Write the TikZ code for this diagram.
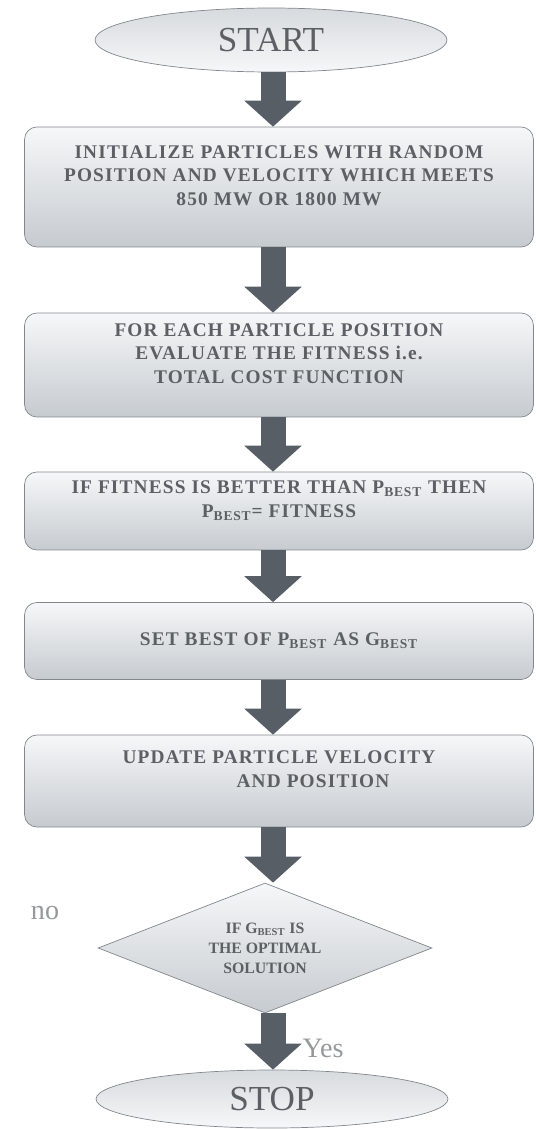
\documentclass[tikz,border=0pt]{standalone}
\usepackage{fontspec}
\setmainfont{Liberation Serif}
\usetikzlibrary{shapes.geometric,arrows.meta}

\definecolor{boxtop}{RGB}{246,247,248}
\definecolor{boxbottom}{RGB}{198,203,208}
\definecolor{boxline}{RGB}{130,135,141}
\definecolor{arrowgray}{RGB}{88,94,102}
\definecolor{textgray}{RGB}{92,96,101}
\definecolor{labelgray}{RGB}{150,152,155}

\tikzset{
  procbox/.style={draw=boxline, top color=boxtop, bottom color=boxbottom,
    rounded corners=7pt, minimum width=10.18cm, inner sep=0pt, align=center,
    text=textgray, font=\fontsize{11}{13.6}\selectfont\bfseries\addfontfeatures{LetterSpace=6}},
  raised/.style={text depth=0.46cm},
  terminal/.style={ellipse, draw=boxline, top color=boxbottom!70, bottom color=boxtop,
    minimum width=7.04cm, inner sep=0pt, text=textgray,
    font=\fontsize{20}{22}\selectfont},
  decision/.style={diamond, draw=boxline, top color=boxtop, bottom color=boxbottom,
    minimum width=6.68cm, minimum height=2.6cm, aspect=2.57, inner sep=0pt,
    align=center, text=textgray, font=\fontsize{9}{11.3}\selectfont\bfseries},
  blockarrow/.style={draw=arrowgray, line width=0.5cm,
    -{Triangle[width=1.12cm,length=0.52cm]}},
  sidelabel/.style={text=labelgray, font=\fontsize{16}{18}\selectfont},
}

\newcommand{\flowarrow}[2]{%
  \draw[blockarrow] (#1.south -| axis) -- (#2.north -| axis);
}

\begin{document}
\begin{tikzpicture}[x=0.02cm, y=-0.02cm]
  \useasboundingbox (0,0) rectangle (536,1129);
  \coordinate (axis) at (273,0);

  % Start
  \node[terminal, minimum height=1.28cm] (start) at (271,40) {START};

  % Schritte
  \node[procbox, raised, minimum height=2.4cm] (init) at (279,187)
    {INITIALIZE PARTICLES WITH RANDOM\\POSITION AND VELOCITY WHICH MEETS\\850 MW OR 1800 MW};
  \node[procbox, raised, minimum height=2.08cm] (eval) at (279,365)
    {FOR EACH PARTICLE POSITION\\EVALUATE THE FITNESS i.e.\\TOTAL COST FUNCTION};
  \node[procbox, raised, minimum height=1.56cm] (pbest) at (279,511)
    {IF FITNESS IS BETTER THAN P\textsubscript{BEST} THEN\\P\textsubscript{BEST}= FITNESS};
  \node[procbox, minimum height=1.54cm] (gbest) at (279,641)
    {SET BEST OF P\textsubscript{BEST} AS G\textsubscript{BEST}};
  \node[procbox, raised, minimum height=1.84cm] (update) at (279,781)
    {UPDATE PARTICLE VELOCITY\\\hspace*{1.36cm}AND POSITION};

  % Abfrage
  \node[decision] (check) at (265,948)
    {IF G\textsubscript{BEST} IS\\THE OPTIMAL\\SOLUTION};

  % Stop
  \node[terminal, minimum height=1.16cm] (stop) at (272,1099) {STOP};

  % Pfeile
  \flowarrow{start}{init}
  \flowarrow{init}{eval}
  \flowarrow{eval}{pbest}
  \flowarrow{pbest}{gbest}
  \flowarrow{gbest}{update}
  \flowarrow{update}{check}
  \flowarrow{check}{stop}

  % Beschriftung
  \node[sidelabel] (no) at (45,913) {no};
  \node[sidelabel] (yes) at (323,1048) {Yes};
\end{tikzpicture}
\end{document}
